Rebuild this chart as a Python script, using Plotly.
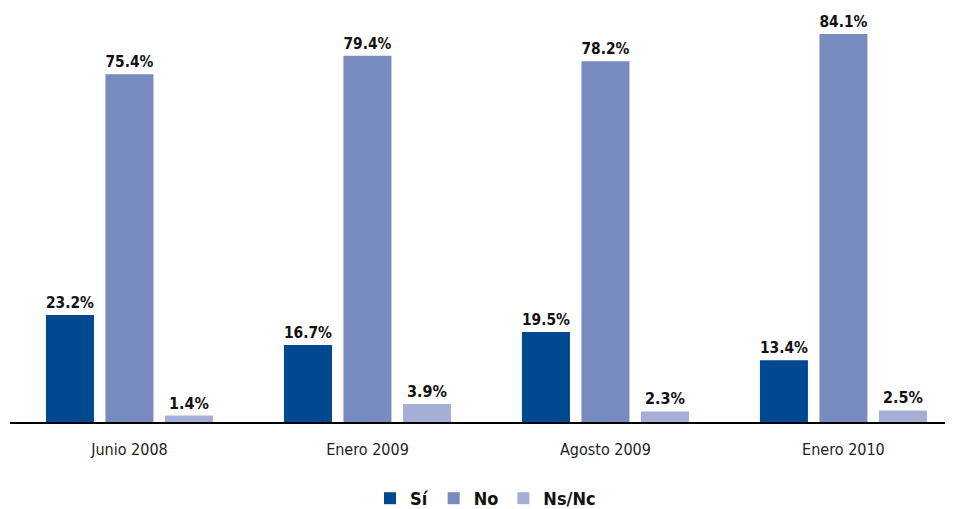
import plotly.graph_objects as go

periodos = ["Junio 2008", "Enero 2009", "Agosto 2009", "Enero 2010"]
si = [23.2, 16.7, 19.5, 13.4]
no = [75.4, 79.4, 78.2, 84.1]
nsnc = [1.4, 3.9, 2.3, 2.5]

series = [
    ("Sí", si, "#004990"),
    ("No", no, "#788BBE"),
    ("Ns/Nc", nsnc, "#A5AFD6"),
]

FONT = "Liberation Sans Narrow, DejaVu Sans Condensed, Arial Narrow, sans-serif"

fig = go.Figure()
for name, vals, color in series:
    fig.add_trace(go.Bar(
        x=periodos,
        y=vals,
        name=f"<b>{name}</b>",
        marker=dict(color=color, line=dict(width=0)),
        text=[f"<b>{v:.1f}%</b>" for v in vals],
        textposition="outside",
        textfont=dict(family=FONT, size=16, color="#111111"),
        cliponaxis=False,
    ))

fig.update_layout(
    barmode="group",
    bargap=0.25,
    bargroupgap=0.193,
    width=953,
    height=509,
    margin=dict(l=2, r=0, t=2, b=91),
    plot_bgcolor="white",
    paper_bgcolor="white",
    font=dict(family=FONT, color="#222222"),
    legend=dict(
        orientation="h",
        x=0.5, xanchor="center",
        y=-0.142, yanchor="top",
        font=dict(family=FONT, size=18, color="#111111"),
        itemwidth=30,
        traceorder="normal",
    ),
)

fig.update_xaxes(
    range=[-0.502, 3.494],
    showline=True, linecolor="black", linewidth=1.5,
    ticks="outside", ticklen=12, tickcolor="rgba(0,0,0,0)",
    showgrid=False,
    tickfont=dict(family=FONT, size=16, color="#222222"),
)
fig.update_yaxes(
    range=[0, 89.3],
    visible=False,
    showgrid=False,
    zeroline=False,
)

fig.write_html("out.html")
